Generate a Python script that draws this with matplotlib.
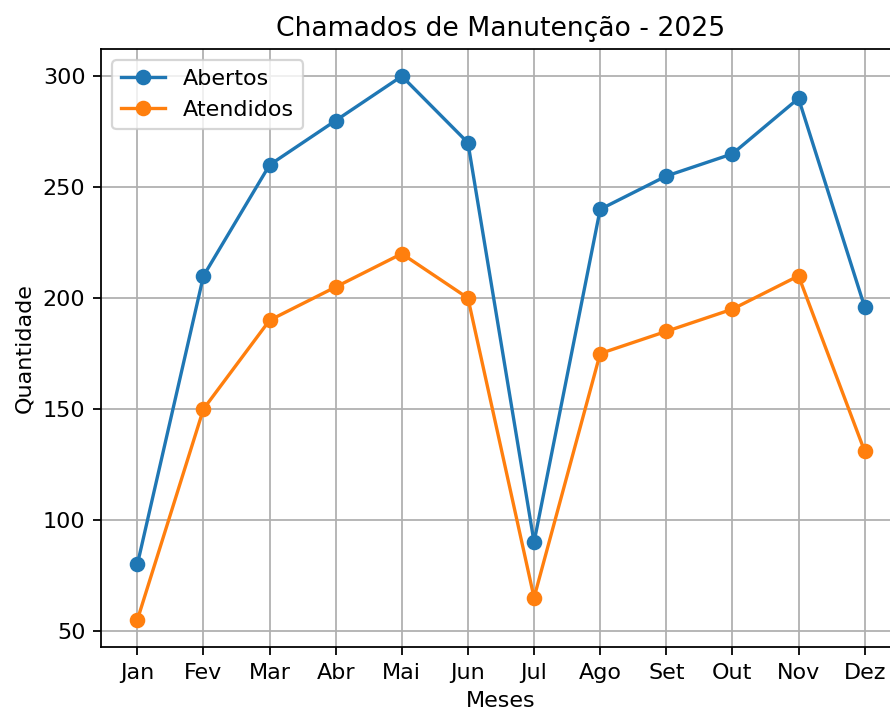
import matplotlib
matplotlib.use("Agg")
import matplotlib.pyplot as plt

meses = ["Jan", "Fev", "Mar", "Abr", "Mai", "Jun", "Jul", "Ago", "Set", "Out", "Nov", "Dez"]
abertos = [80, 210, 260, 280, 300, 270, 90, 240, 255, 265, 290, 196]
atendidos = [55, 150, 190, 205, 220, 200, 65, 175, 185, 195, 210, 131]

dpi = 160
fig = plt.figure(figsize=(890 / dpi, 711 / dpi), dpi=dpi)
ax = fig.add_axes([101 / 890, 64 / 711, 800 / 890, 598 / 711])

ax.plot(meses, abertos, marker="o", label="Abertos")
ax.plot(meses, atendidos, marker="o", label="Atendidos")
ax.set_title("Chamados de Manutenção - 2025")
ax.set_xlabel("Meses")
ax.set_ylabel("Quantidade")
ax.grid(True)
ax.legend(loc="upper left")

fig.savefig("out.png", dpi=dpi)
